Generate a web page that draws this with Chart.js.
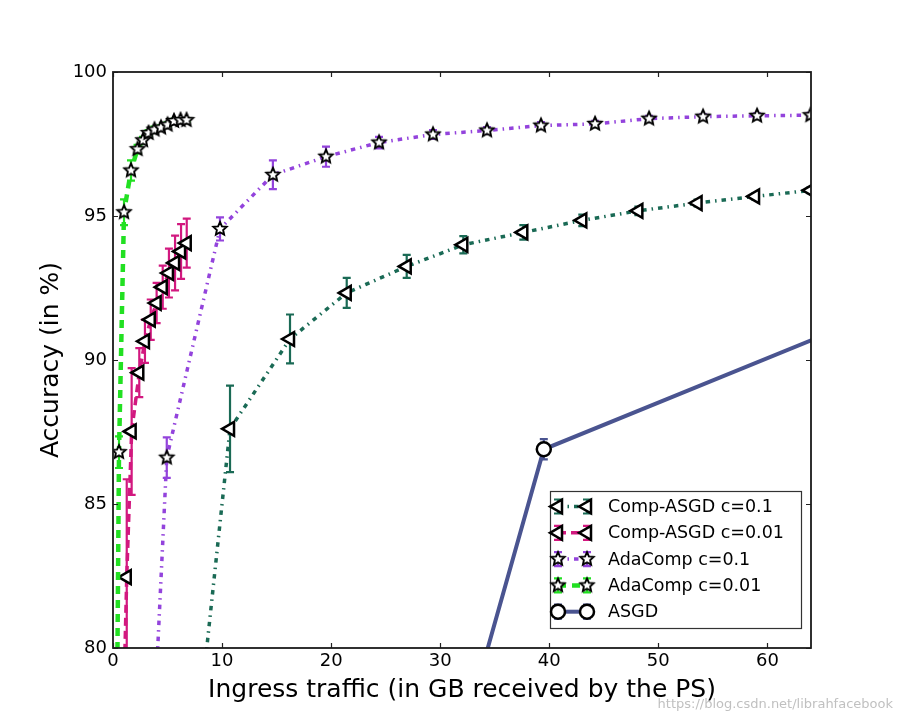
<!DOCTYPE html>
<html><head><meta charset="utf-8">
<script src="https://cdn.jsdelivr.net/npm/chart.js@4.4.1/dist/chart.umd.min.js"></script>
<style>html,body{margin:0;padding:0;background:#fff}#wrap{width:902px;height:722px}</style>
</head><body><div id="wrap"><canvas id="c" width="902" height="722"></canvas></div>
<script>
// ---------------- data ----------------
const xTicks = [0, 10, 20, 30, 40, 50, 60];
const yTicks = [80, 85, 90, 95, 100];
const seriesNames = ['Comp-ASGD c=0.1', 'Comp-ASGD c=0.01', 'AdaComp c=0.1', 'AdaComp c=0.01', 'ASGD'];
const xTitle = 'Ingress traffic (in GB received by the PS)';
const yTitle = 'Accuracy (in %)';

const compAsgd01X   = [5.4, 10.73, 16.23, 21.43, 26.93, 32.12, 37.62, 43.03, 48.17, 53.6, 58.87, 63.95];
const compAsgd01Y   = [68.6, 87.61, 90.73, 92.33, 93.25, 94.0, 94.43, 94.85, 95.18, 95.45, 95.68, 95.89];
const compAsgd01Err = [0, 1.5, 0.85, 0.52, 0.4, 0.3, 0.25, 0.2, 0.15, 0.12, 0.1, 0.1];

const compAsgd001X   = [0.71, 1.26, 1.71, 2.41, 2.93, 3.46, 4.0, 4.56, 5.13, 5.69, 6.24, 6.76];
const compAsgd001Y   = [74.0, 82.46, 87.52, 89.56, 90.65, 91.4, 91.98, 92.53, 93.02, 93.37, 93.77, 94.06];
const compAsgd001Err = [0, 3.4, 2.2, 0.85, 0.75, 0.7, 0.7, 0.75, 0.85, 0.95, 0.95, 0.85];

const adaComp01X   = [0.02, 4.93, 9.81, 14.66, 19.53, 24.39, 29.34, 34.29, 39.24, 44.2, 49.15, 54.1, 59.05, 63.95];
const adaComp01Y   = [47.5, 86.61, 94.55, 96.43, 97.06, 97.55, 97.83, 97.97, 98.14, 98.2, 98.38, 98.45, 98.48, 98.5];
const adaComp01Err = [0, 0.7, 0.4, 0.5, 0.35, 0.2, 0.15, 0.12, 0.12, 0.1, 0.1, 0.08, 0.08, 0.08];

const adaComp001X   = [0.0, 0.55, 1.01, 1.65, 2.25, 2.75, 3.26, 3.8, 4.4, 5.0, 5.59, 6.19, 6.74];
const adaComp001Y   = [60.0, 86.8, 95.13, 96.58, 97.32, 97.63, 97.88, 98.0, 98.07, 98.17, 98.3, 98.33, 98.33];
const adaComp001Err = [0, 0.55, 0.45, 0.35, 0.15, 0.12, 0.1, 0.1, 0.08, 0.08, 0.07, 0.06, 0.05];

const asgdX   = [29.6, 39.5, 79.0];
const asgdY   = [73.6, 86.9, 93.0];
const asgdErr = [0, 0.35, 0];

// ---------------- styles ----------------
const FONT = '"DejaVu Sans", "Liberation Sans", sans-serif';
const C_TEAL = '#1a6a55', C_MAG = '#d2187f', C_PURP = '#9343dc', C_GREEN = '#22e022', C_ASGD = '#4a5490';

function makeStar(R, r, lw) {
  const s = Math.ceil(2 * R + 2 * lw + 2);
  const c = document.createElement('canvas'); c.width = s; c.height = s;
  const g = c.getContext('2d');
  g.translate(s / 2, s / 2);
  g.beginPath();
  for (let i = 0; i < 10; i++) {
    const a = -Math.PI / 2 + i * Math.PI / 5;
    const rr = i % 2 === 0 ? R : r;
    g.lineTo(Math.cos(a) * rr, Math.sin(a) * rr);
  }
  g.closePath();
  g.fillStyle = '#fff'; g.fill();
  g.lineWidth = lw; g.strokeStyle = '#000'; g.lineJoin = 'miter'; g.stroke();
  return c;
}
const starImg = makeStar(7, 3.3, 1.9);

function pts(xs, ys) { return xs.map((v, i) => ({ x: v, y: ys[i] })); }

function drawMarker(ctx, kind, x, y) {
  ctx.save();
  ctx.setLineDash([]);
  if (kind === 'star') {
    ctx.drawImage(starImg, x - starImg.width / 2, y - starImg.height / 2);
  } else if (kind === 'tri') {
    const r = 8;
    ctx.beginPath();
    ctx.moveTo(x - r, y);
    ctx.lineTo(x + 0.5 * r, y - 0.866 * r);
    ctx.lineTo(x + 0.5 * r, y + 0.866 * r);
    ctx.closePath();
    ctx.fillStyle = '#fff'; ctx.fill();
    ctx.lineWidth = 2.5; ctx.strokeStyle = '#000'; ctx.stroke();
  } else {
    ctx.beginPath(); ctx.arc(x, y, 7, 0, Math.PI * 2);
    ctx.fillStyle = '#fff'; ctx.fill();
    ctx.lineWidth = 2.5; ctx.strokeStyle = '#000'; ctx.stroke();
  }
  ctx.restore();
}

const dashDot = [4.5, 5, 1.5, 5];

const datasets = [
  { label: seriesNames[0], data: pts(compAsgd01X, compAsgd01Y), errors: compAsgd01Err, markerKind: 'tri',
    borderColor: C_TEAL, borderWidth: 3.5, borderDash: dashDot, order: 4,
    pointStyle: 'triangle', pointRotation: -90, pointRadius: 8, pointBorderWidth: 2.5,
    pointBackgroundColor: '#fff', pointBorderColor: '#000' },
  { label: seriesNames[1], data: pts(compAsgd001X, compAsgd001Y), errors: compAsgd001Err, markerKind: 'tri',
    borderColor: C_MAG, borderWidth: 3.5, borderDash: [8, 5], order: 3,
    pointStyle: 'triangle', pointRotation: -90, pointRadius: 8, pointBorderWidth: 2.5,
    pointBackgroundColor: '#fff', pointBorderColor: '#000' },
  { label: seriesNames[2], data: pts(adaComp01X, adaComp01Y), errors: adaComp01Err, markerKind: 'star',
    borderColor: C_PURP, borderWidth: 3.5, borderDash: dashDot, order: 2,
    pointStyle: starImg, pointRadius: 7 },
  { label: seriesNames[3], data: pts(adaComp001X, adaComp001Y), errors: adaComp001Err, markerKind: 'star',
    borderColor: C_GREEN, borderWidth: 4.5, borderDash: [8, 6], order: 1,
    pointStyle: starImg, pointRadius: 7 },
  { label: seriesNames[4], data: pts(asgdX, asgdY), errors: asgdErr, markerKind: 'circle',
    borderColor: C_ASGD, borderWidth: 4, order: 0,
    pointStyle: 'circle', pointRadius: 7, pointBorderWidth: 2.5,
    pointBackgroundColor: '#fff', pointBorderColor: '#000' }
];
datasets.forEach(d => { d.tension = 0; d.fill = false; d.showLine = true; });

// ---------------- plugins ----------------
const errorBarPlugin = {
  id: 'errorBars',
  beforeDatasetDraw(chart, args) {
    const ds = chart.data.datasets[args.index];
    if (!ds.errors) return;
    const { ctx, chartArea: a } = chart;
    const x = chart.scales.x, y = chart.scales.y;
    ctx.save();
    ctx.beginPath(); ctx.rect(a.left, a.top, a.right - a.left, a.bottom - a.top); ctx.clip();
    ctx.strokeStyle = ds.borderColor; ctx.lineWidth = 2.2; ctx.setLineDash([]);
    ds.data.forEach((p, i) => {
      const e = ds.errors[i]; if (!e) return;
      const px = x.getPixelForValue(p.x);
      const y1 = y.getPixelForValue(p.y + e), y2 = y.getPixelForValue(p.y - e);
      ctx.beginPath();
      ctx.moveTo(px, y1); ctx.lineTo(px, y2);
      ctx.moveTo(px - 4, y1); ctx.lineTo(px + 4, y1);
      ctx.moveTo(px - 4, y2); ctx.lineTo(px + 4, y2);
      ctx.stroke();
    });
    ctx.restore();
  }
};

const framePlugin = {
  id: 'frame',
  afterDatasetsDraw(chart) {
    const { ctx, chartArea: a } = chart;
    const x = chart.scales.x, y = chart.scales.y;
    ctx.save();
    ctx.setLineDash([]);
    ctx.strokeStyle = '#222'; ctx.lineWidth = 1.2;
    ctx.beginPath();
    xTicks.forEach(v => {
      const px = Math.round(x.getPixelForValue(v)) + 0.5;
      ctx.moveTo(px, a.bottom); ctx.lineTo(px, a.bottom - 5);
      ctx.moveTo(px, a.top); ctx.lineTo(px, a.top + 5);
    });
    yTicks.forEach(v => {
      const py = Math.round(y.getPixelForValue(v)) + 0.5;
      ctx.moveTo(a.left, py); ctx.lineTo(a.left + 5, py);
      ctx.moveTo(a.right, py); ctx.lineTo(a.right - 5, py);
    });
    ctx.stroke();
    ctx.lineWidth = 1.8; ctx.strokeStyle = '#1a1a1a';
    ctx.strokeRect(a.left, a.top, a.right - a.left, a.bottom - a.top);
    ctx.restore();
  }
};

const legendPlugin = {
  id: 'mplLegend',
  afterDraw(chart) {
    const ctx = chart.ctx;
    const bx = 550.5, by = 491.5, bw = 251, bh = 137;
    ctx.save();
    ctx.fillStyle = '#fff'; ctx.fillRect(bx, by, bw, bh);
    ctx.strokeStyle = '#333'; ctx.lineWidth = 1.2; ctx.strokeRect(bx, by, bw, bh);
    chart.data.datasets.forEach((ds, i) => {
      const yy = 506.5 + i * 26.3;
      const x1 = 558, x2 = 587;
      ctx.beginPath();
      ctx.setLineDash(ds.borderDash || []);
      ctx.lineWidth = ds.borderWidth; ctx.strokeStyle = ds.borderColor;
      ctx.moveTo(x1, yy); ctx.lineTo(x2, yy); ctx.stroke();
      ctx.setLineDash([]);
      [x1, x2].forEach(px => {
        ctx.lineWidth = 2.2; ctx.strokeStyle = ds.borderColor;
        ctx.beginPath();
        ctx.moveTo(px, yy - 7); ctx.lineTo(px, yy + 7);
        ctx.moveTo(px - 4, yy - 7); ctx.lineTo(px + 4, yy - 7);
        ctx.moveTo(px - 4, yy + 7); ctx.lineTo(px + 4, yy + 7);
        ctx.stroke();
      });
      [x1, x2].forEach(px => drawMarker(ctx, ds.markerKind, px, yy));
      ctx.fillStyle = '#000'; ctx.font = '17.5px ' + FONT;
      ctx.textBaseline = 'middle'; ctx.textAlign = 'left';
      ctx.fillText(ds.label, 608, yy + 1);
    });
    // watermark
    ctx.font = '13px ' + FONT;
    ctx.fillStyle = 'rgba(185,185,185,0.9)';
    ctx.textAlign = 'right'; ctx.textBaseline = 'middle';
    ctx.fillText('https://blog.csdn.net/librahfacebook', 893, 705);
    ctx.restore();
  }
};

// ---------------- chart ----------------
new Chart(document.getElementById('c'), {
  type: 'line',
  data: { datasets },
  plugins: [errorBarPlugin, framePlugin, legendPlugin],
  options: {
    responsive: false,
    devicePixelRatio: 1,
    animation: false,
    layout: { padding: { left: 0, right: 91, top: 72, bottom: 0 } },
    plugins: { legend: { display: false }, tooltip: { enabled: false } },
    scales: {
      x: {
        type: 'linear', min: 0, max: 64,
        afterFit(s) { s.height = 74; },
        afterBuildTicks(s) { s.ticks = xTicks.map(v => ({ value: v })); },
        grid: { display: false, drawTicks: false },
        border: { display: false },
        ticks: { padding: 3, color: '#000', font: { family: FONT, size: 18 }, maxRotation: 0 },
        title: { display: true, text: xTitle, color: '#000', font: { family: FONT, size: 25 }, padding: { top: 0, bottom: 17 } }
      },
      y: {
        type: 'linear', min: 80, max: 100,
        afterFit(s) { s.width = 113; },
        afterBuildTicks(s) { s.ticks = yTicks.map(v => ({ value: v })); },
        grid: { display: false, drawTicks: false },
        border: { display: false },
        ticks: { padding: 6, color: '#000', font: { family: FONT, size: 18 } },
        title: { display: true, text: yTitle, color: '#000', font: { family: FONT, size: 25 }, padding: { top: 36, bottom: 0 } }
      }
    }
  }
});
</script>
</body></html>
